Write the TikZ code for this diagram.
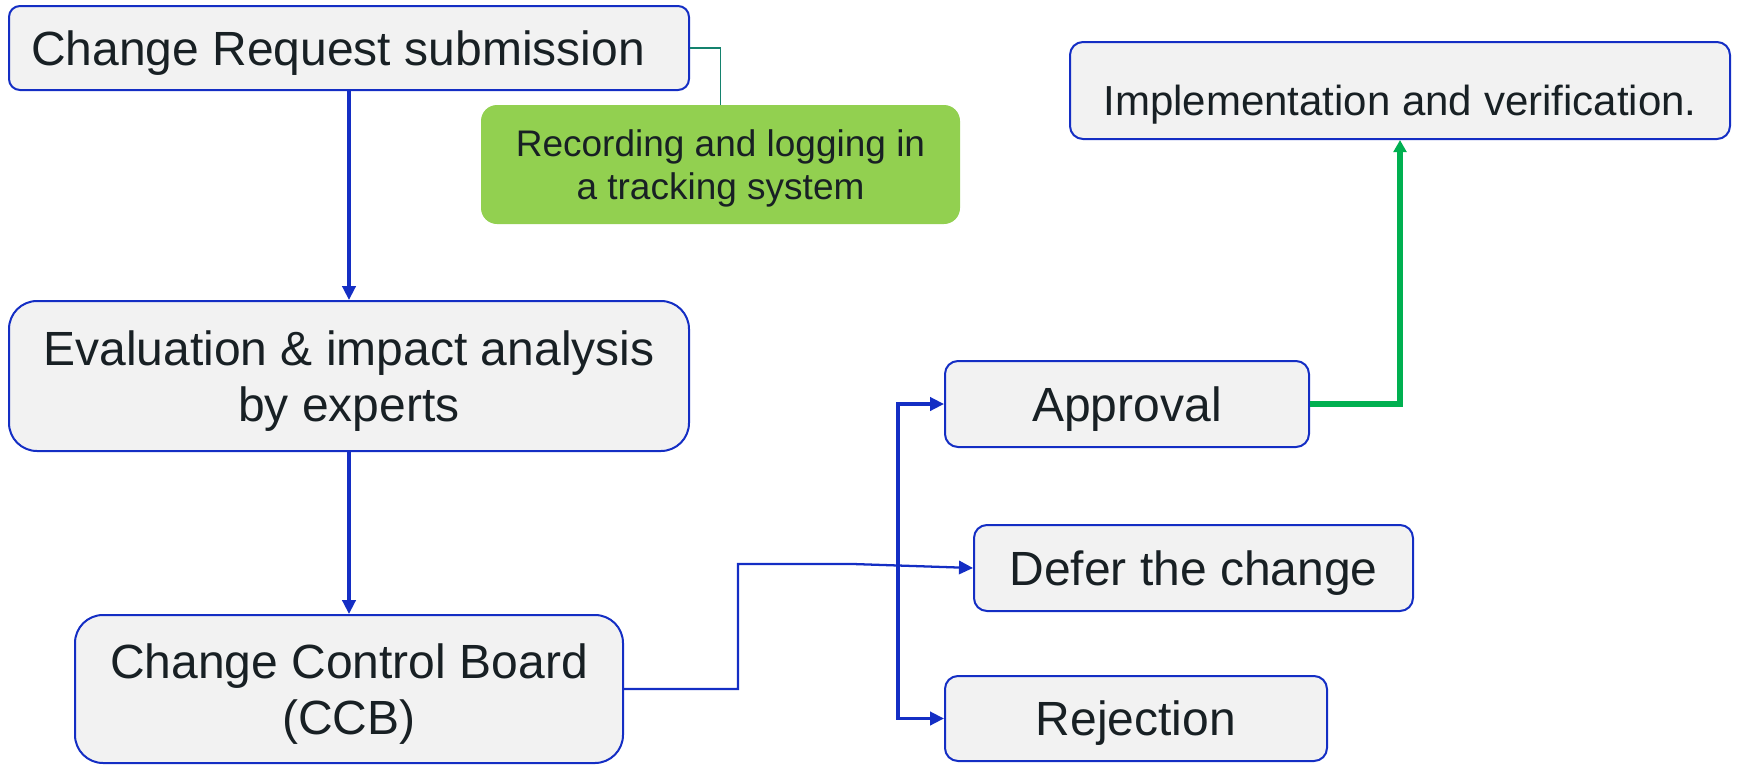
\documentclass[tikz,border=0pt]{standalone}
\usepackage{fontspec}
\setmainfont{Liberation Sans}
\usetikzlibrary{arrows.meta}
\newlength\px
\setlength\px{0.75pt}
\definecolor{boxblue}{RGB}{20,46,196}
\definecolor{boxfill}{RGB}{242,242,242}
\definecolor{txt}{RGB}{24,32,36}
\definecolor{lgreen}{RGB}{146,208,80}
\definecolor{dgreen}{RGB}{0,176,80}
\definecolor{teal}{RGB}{20,130,110}
\tikzset{
  stepbox/.style={draw=boxblue, line width=1.5pt, fill=boxfill, text=txt, align=center,
    inner sep=0pt, text depth=0pt, font=\fontsize{36}{42}\selectfont},
  greenbox/.style={fill=lgreen, text=txt, align=center, inner sep=0pt, text depth=0pt,
    rounded corners=16\px, font=\fontsize{27.75}{32.5}\selectfont},
  arr/.style={draw=boxblue, line width=2.4pt, -{Triangle[length=10.5pt,width=10pt]}},
  thinarr/.style={draw=boxblue, line width=1.7pt, -{Triangle[length=10.5pt,width=10pt]}},
  garr/.style={draw=dgreen, line width=4.4pt, -{Triangle[length=9pt,width=9.5pt]}},
  tealline/.style={draw=teal, line width=1.1pt},
}
\begin{document}
\begin{tikzpicture}[x=0.75pt,y=-0.75pt]
\useasboundingbox (0,0) rectangle (1738,764);
\node[stepbox, rounded corners=11\px, minimum width=680\px, minimum height=84\px] (b1) at (349,48) {Change Request submission\hspace*{22\px}};
\node[greenbox, minimum width=479\px, minimum height=119\px] (g) at (720.5,164.5) {Recording and logging in\\a tracking system};
\node[stepbox, rounded corners=28\px, minimum width=680\px, minimum height=150\px] (b2) at (349,376) {Evaluation \& impact analysis\\by experts};
\node[stepbox, rounded corners=28\px, minimum width=548\px, minimum height=148\px] (ccb) at (349,689) {Change Control Board\\(CCB)};
\node[stepbox, rounded corners=13\px, minimum width=660\px, minimum height=97\px, text height=38pt, font=\fontsize{31.5}{36}\selectfont] (impl) at (1400,90.5) {Implementation and verification.};
\node[stepbox, rounded corners=13\px, minimum width=364\px, minimum height=86\px] (appr) at (1127,404) {Approval};
\node[stepbox, rounded corners=13\px, minimum width=439\px, minimum height=86\px] (defer) at (1193.5,568) {Defer the change};
\node[stepbox, rounded corners=13\px, minimum width=382\px, minimum height=85\px] (rej) at (1136,718.5) {Rejection};
\coordinate (k1) at (738,564);
\coordinate (k2) at (853,564);
\coordinate (j) at (898,564);
\draw[tealline] (b1.east) -| (g.north);
\draw[arr] (b1.south) -- (b2.north);
\draw[arr] (b2.south) -- (ccb.north);
\draw[thinarr] (ccb.east) -| (k1) -- (k2) -- (defer.west);
\draw[arr] (j) |- (appr.west);
\draw[arr] (j) |- (rej.west);
\draw[garr] (appr.east) -| (impl.south);
\end{tikzpicture}
\end{document}
